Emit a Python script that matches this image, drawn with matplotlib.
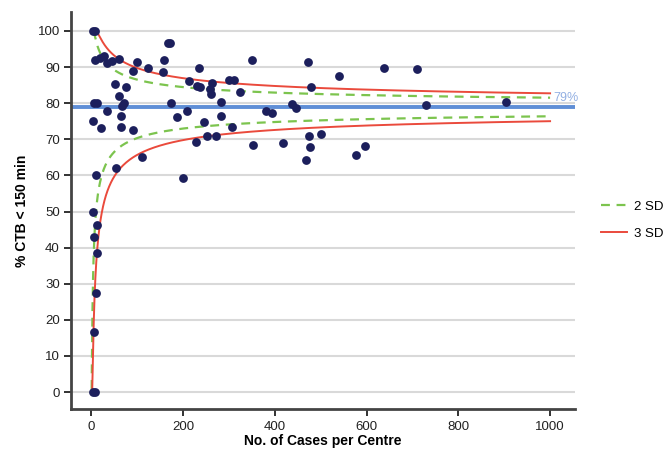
import numpy as np
import matplotlib
matplotlib.use("Agg")
import matplotlib.pyplot as plt
from matplotlib.lines import Line2D

plt.rcParams['font.family'] = ['Liberation Sans', 'DejaVu Sans']

# Centre volumes and proportion of cases with CTB < 150 min
cases = [4, 8, 3, 8, 6, 11, 13, 7, 13, 4, 10,
         9, 20, 28, 35, 46, 60, 100, 90, 123, 159, 156, 167, 172, 234,
         214, 230, 237, 264, 259, 261, 301, 312, 324, 350,
         51, 75, 60, 5, 12, 71, 68, 35, 64, 4, 22, 64, 91,
         173, 187, 208, 245, 283, 283, 306, 228, 252, 272, 353,
         110, 54, 201,
         472, 540, 639, 711, 480, 380, 395, 438, 447, 730, 903,
         417, 474, 501, 476, 468, 576, 596]
pct_ctb = [100, 100, 0, 0, 16.7, 27.3, 38.5, 42.9, 46.2, 50, 60,
           92.0, 92.4, 93.1, 91.1, 91.7, 92.2, 91.3, 88.9, 89.7, 92.0, 88.6, 96.6, 96.6, 89.8,
           86.1, 84.8, 84.4, 85.7, 83.8, 82.5, 86.4, 86.3, 83.0, 92.0,
           85.2, 84.4, 82.0, 80.1, 80.1, 80.0, 79.2, 77.9, 76.5, 75.2, 73.0, 73.3, 72.6,
           80.0, 76.1, 77.8, 74.9, 80.4, 76.5, 73.3, 69.3, 70.8, 70.8, 68.4,
           65.2, 62.0, 59.4,
           91.4, 87.6, 89.7, 89.6, 84.6, 77.9, 77.2, 79.7, 78.8, 79.5, 80.2,
           69.1, 70.9, 71.6, 68.0, 64.3, 65.7, 68.1]

overall_pct = 79
sd_levels = [2, 3]
sd_labels = ["2 SD", "3 SD"]
x_ticks = [0, 200, 400, 600, 800, 1000]
y_ticks = list(range(0, 101, 10))
n_max = 1000

fig = plt.figure(figsize=(6.7, 4.54), dpi=100)
ax = fig.add_axes([0.106, 0.099, 0.752, 0.875])

# Funnel limits on the arcsine (variance-stabilised) scale
p = overall_pct / 100
theta0 = np.arcsin(np.sqrt(p))


def limit_curve(z, sign):
    if sign > 0:
        n_start = (z / (2 * (np.pi / 2 - theta0))) ** 2
    else:
        n_start = (z / (2 * theta0)) ** 2
    n_start = max(n_start, 1.0)
    n = np.concatenate([np.geomspace(n_start, 60, 400), np.linspace(60, n_max, 400)[1:]])
    theta = theta0 + sign * z / (2 * np.sqrt(n))
    theta = np.clip(theta, 0, np.pi / 2)
    return n, 100 * np.sin(theta) ** 2


for y in y_ticks:
    ax.axhline(y, color='#d9d9d9', lw=1.5, zorder=0)

ax.axhline(overall_pct, color='#5f8ed6', lw=2.8, zorder=1)
ax.text(1062, overall_pct + 0.8, f"{overall_pct}%", color='#93b0e3',
        fontsize=9, ha='right', va='bottom')

styles = {2: dict(color='#7cc44e', ls=(0, (4, 3)), lw=1.6),
          3: dict(color='#ea4a3c', ls='-', lw=1.4)}
for z in sd_levels:
    for sign in (1, -1):
        n, lim = limit_curve(z, sign)
        ax.plot(n, lim, zorder=2, **styles[z])

ax.scatter(cases, pct_ctb, s=40, color='#1c1f5c', zorder=3, linewidths=0)

ax.set_xlim(-44, 1054)
ax.set_ylim(-4.7, 105.3)
ax.set_xticks(x_ticks)
ax.set_yticks(y_ticks)
ax.tick_params(axis='both', labelsize=9.5, colors='#222222', length=5, width=1.3,
               direction='out')
ax.tick_params(axis='y', pad=3)
for side in ('top', 'right'):
    ax.spines[side].set_visible(False)
for side in ('left', 'bottom'):
    ax.spines[side].set_color('#444444')
    ax.spines[side].set_linewidth(2)

ax.set_xlabel("No. of Cases per Centre", fontsize=10, fontweight='bold', labelpad=1)
ax.set_ylabel("% CTB < 150 min", fontsize=10, fontweight='bold', labelpad=6)

handles = [Line2D([], [], **styles[z]) for z in sd_levels]
fig.legend(handles, sd_labels, loc='center left', bbox_to_anchor=(0.897, 0.515),
           frameon=False, fontsize=9.5, handlelength=2.0, labelspacing=1.1,
           handletextpad=0.5, borderpad=0, borderaxespad=0)

fig.savefig("out.png", dpi=100)
